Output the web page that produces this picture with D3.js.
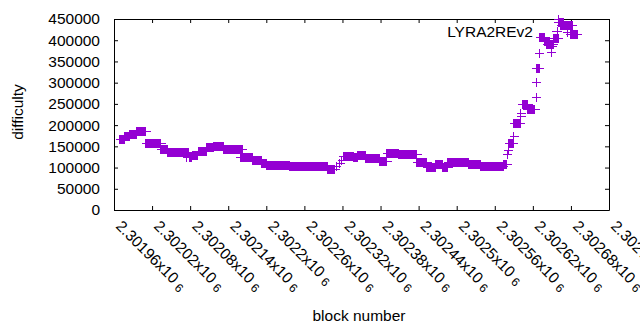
<!DOCTYPE html>
<html>
<head>
<meta charset="utf-8">
<script src="https://cdn.jsdelivr.net/npm/d3@7"></script>
<style>
  body { margin: 0; background: #fff; }
  text { font-family: "Liberation Sans", Arial, sans-serif; font-size: 15.5px; fill: #000; }
</style>
</head>
<body>
<div id="chart"></div>
<script>
(function() {
  var width = 640, height = 330;

  // runs of blocks that share the same difficulty (start block, end block, difficulty)
  var runStart = [2301969,2301976,2301984,2301996,2302010,2302034,2302045,2302075,2302079,2302083,
                  2302093,2302105,2302116,2302133,2302159,2302178,2302192,2302201,2302237,2302297,
                  2302310,2302316,2302319,2302321,2302338,2302344,2302357,2302379,2302390,2302409,
                  2302437,2302453,2302466,2302478,2302486,2302519,2302537,2302573,2302580,2302581,
                  2302582,2302590,2302590,2302601,2302601,2302603,2302611,2302625,2302625,2302625,
                  2302630,2302631,2302638,2302649,2302650,2302642,2302652,2302660,2302660,2302664,
                  2302674,2302679]
  var runEnd   = [2301977,2301984,2301996,2302010,2302034,2302045,2302077,2302075,2302082,2302092,
                  2302106,2302116,2302133,2302162,2302179,2302193,2302201,2302237,2302297,2302308,
                  2302310,2302316,2302319,2302338,2302344,2302357,2302379,2302390,2302409,2302437,
                  2302453,2302466,2302478,2302486,2302519,2302537,2302573,2302579,2302580,2302581,
                  2302589,2302590,2302600,2302601,2302601,2302612,2302623,2302625,2302625,2302630,
                  2302630,2302639,2302647,2302649,2302650,2302652,2302660,2302668,2302660,2302682,
                  2302674,2302690]
  var runDifficulty = [167000,174000,179000,185000,159000,143000,137000,124000,124000,129000,
                       140000,148000,150000,144500,126000,117000,111500,107000,104500,96000,
                       103000,110000,117000,128000,124000,129000,123000,116000,135000,133000,
                       114000,102000,109000,102000,114000,109000,104500,108000,132000,142000,
                       157000,174000,205000,228000,221000,249000,237000,266000,301000,334000,
                       369000,408000,397000,372000,386000,391000,406000,442000,449000,437000,
                       420000,414000]

  var xTicks = [2301960,2302020,2302080,2302140,2302200,2302260,2302320,2302380,2302440,2302500,2302560,2302620,2302680,2302740]
  var xTickLabels = ["2.30196","2.30202","2.30208","2.30214","2.3022","2.30226","2.30232","2.30238","2.30244","2.3025","2.30256","2.30262","2.30268","2.30274"]
  var yTicks = [0,50000,100000,150000,200000,250000,300000,350000,400000,450000]

  var seriesName = "LYRA2REv2"
  var colour = "#9400d3"

  var svg = d3.select("#chart").append("svg")
    .attr("width", width)
    .attr("height", height)

  var xPositionScale = d3.scaleLinear().domain([2301960, 2302740]).range([114, 609])
  var yPositionScale = d3.scaleLinear().domain([0, 450000]).range([210, 19])

  // axes, all four sides make up the frame
  svg.append("g").attr("class", "x-axis")
    .attr("transform", "translate(0,210)")
    .call(d3.axisBottom(xPositionScale).tickValues(xTicks).tickSizeInner(-4).tickSizeOuter(0).tickFormat(""))
  svg.append("g")
    .attr("transform", "translate(0,19)")
    .call(d3.axisTop(xPositionScale).tickValues(xTicks).tickSizeInner(-4).tickSizeOuter(0).tickFormat(""))
  svg.append("g").attr("class", "y-axis")
    .attr("transform", "translate(114,0)")
    .call(d3.axisLeft(yPositionScale).tickValues(yTicks).tickSizeInner(-4).tickSizeOuter(0).tickPadding(14)
      .tickFormat(d3.format("d")))
  svg.append("g")
    .attr("transform", "translate(609,0)")
    .call(d3.axisRight(yPositionScale).tickValues(yTicks).tickSizeInner(-4).tickSizeOuter(0).tickFormat(""))

  svg.selectAll(".domain, .tick line").attr("stroke", "#000").attr("stroke-width", 1)
  svg.selectAll(".y-axis text")
    .style("font-family", '"Liberation Sans", Arial, sans-serif')
    .style("font-size", "15.5px")
    .attr("fill", "#000")

  // rotated x tick labels like 2.30196x10^6
  var xl = svg.append("g").selectAll("text")
    .data(xTicks)
    .enter().append("text")
    .attr("transform", function(d) {
      return "translate(" + (xPositionScale(d) + 1) + ",227) rotate(45)"
    })
  xl.append("tspan").text(function(d, i) { return xTickLabels[i] + "x10" })
  xl.append("tspan").attr("dx", 4).attr("dy", 2).style("font-size", "12px").text("6")

  // the points: overlapping + markers along each run
  var s = 4
  svg.append("g").selectAll("path")
    .data(runStart)
    .enter().append("path")
    .attr("shape-rendering", "crispEdges")
    .attr("fill", colour)
    .attr("d", function(d, i) {
      var x1 = xPositionScale(runStart[i]), x2 = xPositionScale(runEnd[i])
      var y = yPositionScale(runDifficulty[i])
      var w = x2 - x1
      return "M" + (x1 - 0.5) + "," + (y - s) + "h" + (w + 1) + "v" + (2 * s + 1) + "h" + (-(w + 1)) + "Z" +
             "M" + (x1 - s) + "," + (y) + "h" + (w + 2 * s + 1) + "v1h" + (-(w + 2 * s + 1)) + "Z"
    })

  // key
  svg.append("text")
    .attr("x", 533).attr("y", 37)
    .attr("text-anchor", "end")
    .text(seriesName)
  svg.append("path")
    .attr("shape-rendering", "crispEdges")
    .attr("fill", colour)
    .attr("d", "M556.5,27h1v9h-1ZM552,31h10v1h-10Z")

  // axis titles
  svg.append("text")
    .attr("x", 359).attr("y", 321)
    .attr("text-anchor", "middle")
    .text("block number")
  svg.append("text")
    .attr("transform", "translate(23,112) rotate(-90)")
    .attr("text-anchor", "middle")
    .text("difficulty")
})();
</script>
</body>
</html>
